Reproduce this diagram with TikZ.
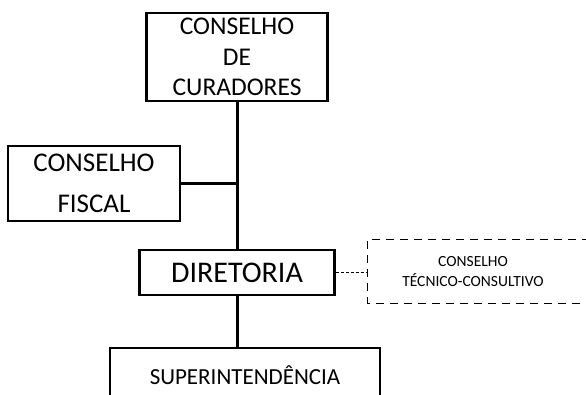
\documentclass[tikz,border=0pt]{standalone}
\usepackage{fontspec}
\setmainfont{Carlito}
\usetikzlibrary{positioning}

\begin{document}
\begin{tikzpicture}
            [
                x=1pt, y=-1pt,
                caixa/.style={draw, line width=2.6pt, align=center, inner sep=0pt},
                tronco/.style={line width=3pt},
                tracejado/.style={line width=0.9pt, dash pattern=on 3pt off 2pt},
                moldura/.style={line width=1.1pt, dash pattern=on 8pt off 6pt},
            ]
            %obs: y cresce para baixo, 1 unidade = 1 px da figura
            \clip (0,0) rectangle (586,394);
            \node[caixa, minimum width=181pt, minimum height=88pt,
                  font=\fontsize{25.5}{29}\selectfont] (curadores) at (237,57)
                  {CONSELHO\\[1.5pt]DE\\[1.5pt]CURADORES};
            \node[caixa, minimum width=172pt, minimum height=75pt,
                  font=\fontsize{27}{41}\selectfont] (fiscal) at (94,183.5)
                  {CONSELHO\\FISCAL};
            \node[caixa, minimum width=195pt, minimum height=45pt,
                  font=\fontsize{30}{34}\selectfont] (diretoria) at (237,272.5)
                  {DIRETORIA};
            \node[align=center, minimum width=210pt, minimum height=63pt, inner sep=0pt,
                  font=\fontsize{15.5}{19.5}\selectfont] (tecnico) at (473,271.5)
                  {CONSELHO\\TÉCNICO-CONSULTIVO};
            \node[caixa, minimum width=270pt, minimum height=54pt,
                  font=\fontsize{23}{27}\selectfont] (super) at (245,375)
                  {SUPERINTENDÊNCIA};
            % ligacoes
            \draw[tronco] (curadores.south) -- (diretoria.north);
            \draw[tronco] (fiscal.east) -- (fiscal.east -| curadores.south);
            \draw[tronco] (diretoria.south) -- (diretoria.south |- super.north);
            \draw[tracejado] (diretoria.east) -- (diretoria.east -| tecnico.west);
            \draw[moldura] ([xshift=40pt]tecnico.north east) -- (tecnico.north west)
                -- (tecnico.south west) -- ([xshift=40pt]tecnico.south east);
        \end{tikzpicture}
\end{document}
